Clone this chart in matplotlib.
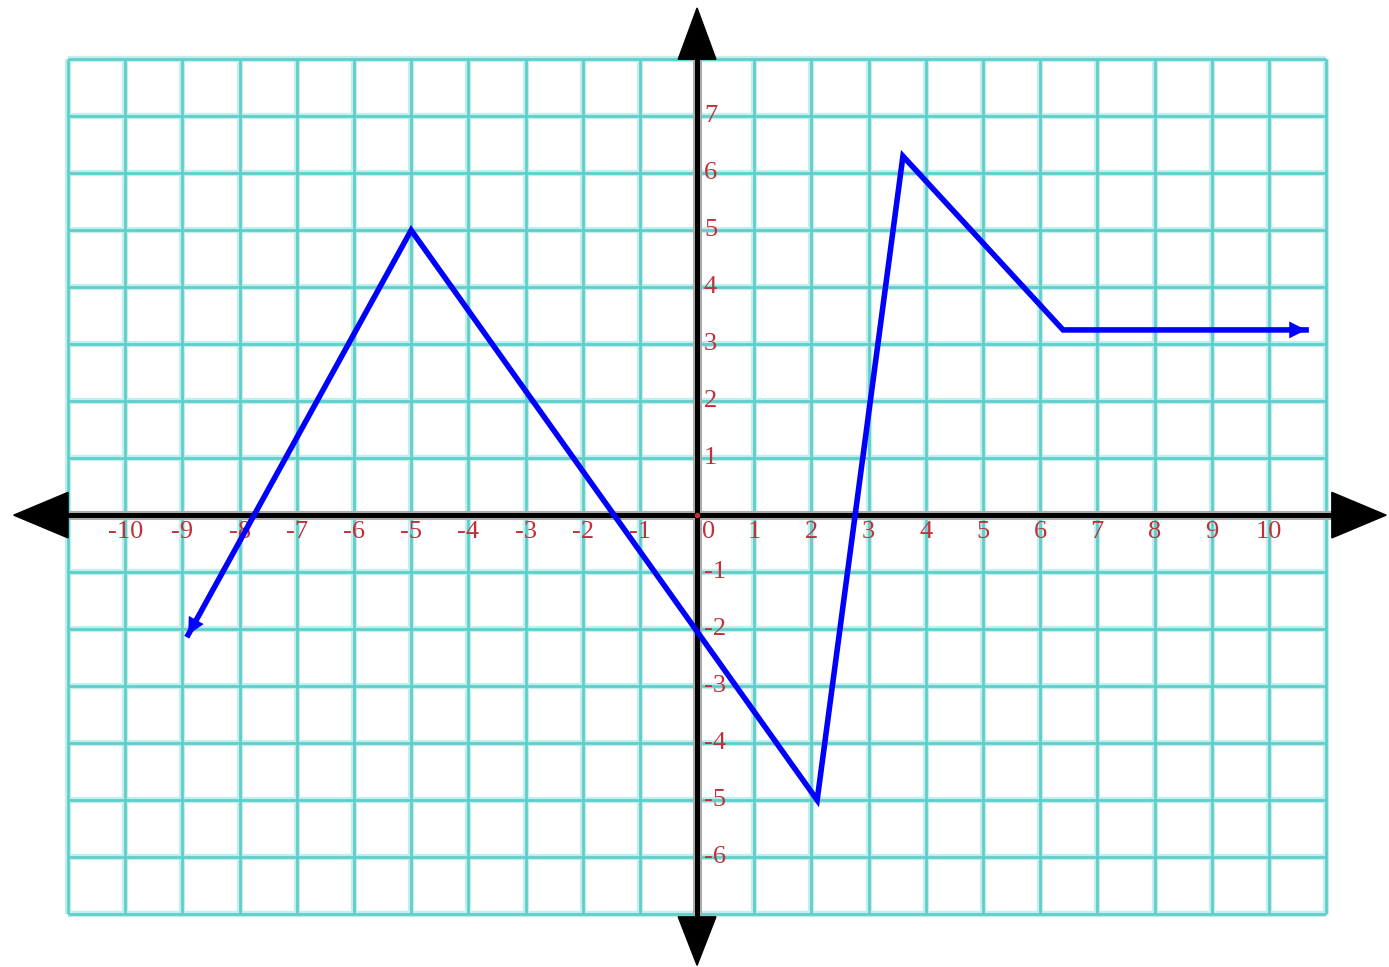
import numpy as np
import matplotlib
matplotlib.use("Agg")
import matplotlib.pyplot as plt

# piecewise graph vertices
px = [-8.9, -5, 2.1, 3.6, 6.4, 10.65]
py = [-2.1, 5, -5, 6.3, 3.25, 3.25]

x_ticks = list(range(-10, 11))
y_ticks = [7, 6, 5, 4, 3, 2, 1, -1, -2, -3, -4, -5, -6]

grid_x = range(-11, 12)
grid_y = range(-7, 9)

fig = plt.figure(figsize=(13.89, 9.67), dpi=100)
ax = fig.add_axes([0, 0, 1, 1])
ax.set_xlim(-12.19, 12.10)
ax.set_ylim(-7.93, 9.04)
ax.axis('off')

grid_col = '#5fcfcb'
for gx in grid_x:
    ax.plot([gx, gx], [-7, 8], color='#c4eeec', lw=4.5, zorder=1, solid_capstyle='butt')
    ax.plot([gx, gx], [-7, 8], color=grid_col, lw=2.0, zorder=1.1, solid_capstyle='butt')
for gy in grid_y:
    ax.plot([-11, 11], [gy, gy], color='#c4eeec', lw=4.5, zorder=1, solid_capstyle='butt')
    ax.plot([-11, 11], [gy, gy], color=grid_col, lw=2.0, zorder=1.1, solid_capstyle='butt')

# axes
ax.plot([-11.1, 11.1], [0, 0], color='#aaaaaa', lw=6.5, zorder=2, solid_capstyle='butt')
ax.plot([-11.1, 11.1], [0, 0], color='black', lw=3.6, zorder=2.1, solid_capstyle='butt')
ax.plot([0, 0], [-7.1, 8.1], color='#aaaaaa', lw=6.5, zorder=2, solid_capstyle='butt')
ax.plot([0, 0], [-7.1, 8.1], color='black', lw=3.6, zorder=2.1, solid_capstyle='butt')

ax.fill([-11.95, -11.0, -11.0], [0, 0.4, -0.4], color='black', zorder=3)
ax.fill([12.05, 11.1, 11.1], [0, 0.4, -0.4], color='black', zorder=3)
ax.fill([0, -0.33, 0.33], [8.9, 8.0, 8.0], color='black', zorder=3)
ax.fill([0, -0.33, 0.33], [-7.9, -7.05, -7.05], color='black', zorder=3)

# tick labels
lab_col = '#c0303a'
for t in x_ticks:
    xx = t if t != 0 else 0.2
    ax.text(xx, -0.3, str(t), color=lab_col, fontsize=19, family='Liberation Serif',
            ha='center', va='center', zorder=4)
for t in y_ticks:
    ax.text(0.12, t, str(t), color=lab_col, fontsize=19, family='Liberation Serif',
            ha='left', va='center', zorder=4)

ax.plot(0, 0, 'o', color='#c0303a', ms=3, zorder=4)

# graph
ax.plot(px, py, color='#0000ff', lw=4.0, zorder=5, solid_joinstyle='miter')
ax.annotate('', xy=(px[0], py[0]), xytext=(px[1], py[1]),
            arrowprops=dict(arrowstyle='-|>', color='#0000ff', lw=0.1,
                            mutation_scale=30, shrinkA=0, shrinkB=0), zorder=6)
ax.annotate('', xy=(px[-1], py[-1]), xytext=(px[-2], py[-2]),
            arrowprops=dict(arrowstyle='-|>', color='#0000ff', lw=0.1,
                            mutation_scale=30, shrinkA=0, shrinkB=0), zorder=6)

fig.savefig('out.png', dpi=100, facecolor='white')
